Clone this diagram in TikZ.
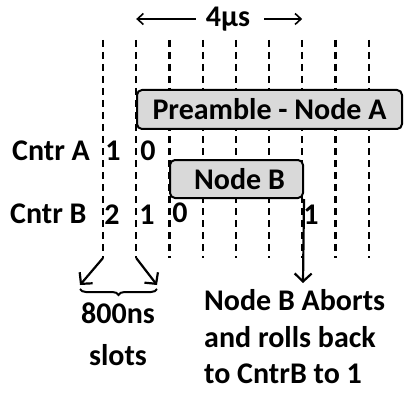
\documentclass[tikz,border=0pt]{standalone}
\usepackage{fontspec}
\setmainfont{Carlito}
\usetikzlibrary{positioning, arrows.meta, decorations.pathreplacing, calc}

\begin{document}
\begin{tikzpicture}[
  x=1pt, y=-1pt,
  slotline/.style={line width=2.2pt, dash pattern=on 7pt off 5pt},
  bar/.style={draw, line width=2pt, rounded corners=5pt, fill=gray!30, font=\bfseries\fontsize{30}{32}\selectfont, inner sep=0pt},
  lbl/.style={font=\bfseries\fontsize{30}{32}\selectfont, inner sep=1pt},
  arr/.style={-{Straight Barb[length=8pt, width=17pt]}, line width=2.2pt},
  toparr/.style={-{Straight Barb[length=6pt, width=11pt]}, line width=1.6pt}
]
  \useasboundingbox (0,0) rectangle (404,393);

  % slot boundaries
  \foreach \i in {0,...,8} {
    \coordinate (top\i) at (103+33.2*\i, 40);
    \coordinate (bot\i) at (103+33.2*\i, 258);
    \draw[slotline] (top\i) -- (bot\i);
  }

  \node[bar, minimum width=265pt, minimum height=39pt] (pre) at (269.5,109.5) {Preamble - Node A};
  \node[bar, minimum width=133pt, minimum height=38pt] (nodeb) at (236.5,179) {\hspace*{6pt}Node B};

  % duration
  \node[lbl] (dur) at (228,19) {4µs};
  \draw[toparr] ([xshift=-9pt]dur.west) -- (top1 |- dur);
  \draw[toparr] ([xshift=13pt]dur.east) -- (top6 |- dur);

  % counters
  \node[lbl, anchor=base west] (cntra) at (11,160) {Cntr A};
  \node[lbl, anchor=base] (a1) at (113,160) {1};
  \node[lbl, anchor=base] (a0) at (148,160) {0};
  \node[lbl, anchor=base west] (cntrb) at (9,223) {Cntr B};
  \node[lbl, anchor=base] (b2) at (112,224) {2};
  \node[lbl, anchor=base] (b1) at (147,224) {1};
  \node[lbl, anchor=base] (b0) at (180,222) {0};
  \node[lbl, anchor=base] (b1late) at (311,224) {1};

  % slot width
  \coordinate (brl) at (80,289);
  \coordinate (brr) at (157,289);
  \draw[arr] (bot0) -- ([yshift=4pt]brl);
  \draw[arr] (bot1) -- ([yshift=4pt]brr);
  \draw[line width=2pt, decorate, decoration={brace, mirror, amplitude=6pt}] (brl) -- (brr);
  \node[lbl, anchor=base] (slots) at (118,323) {800ns};
  \node[lbl, anchor=base] (slotsb) at (118,365) {slots};

  % abort
  \coordinate (tip) at (303,283);
  \draw[arr] (nodeb.south east) -- (tip);
  \node[lbl, anchor=base west] (abort) at (203,310) {Node B Aborts};
  \node[lbl, anchor=base west] (abortb) at (203,347) {and rolls back};
  \node[lbl, anchor=base west] (abortc) at (203,383) {to CntrB to 1};
\end{tikzpicture}
\end{document}
